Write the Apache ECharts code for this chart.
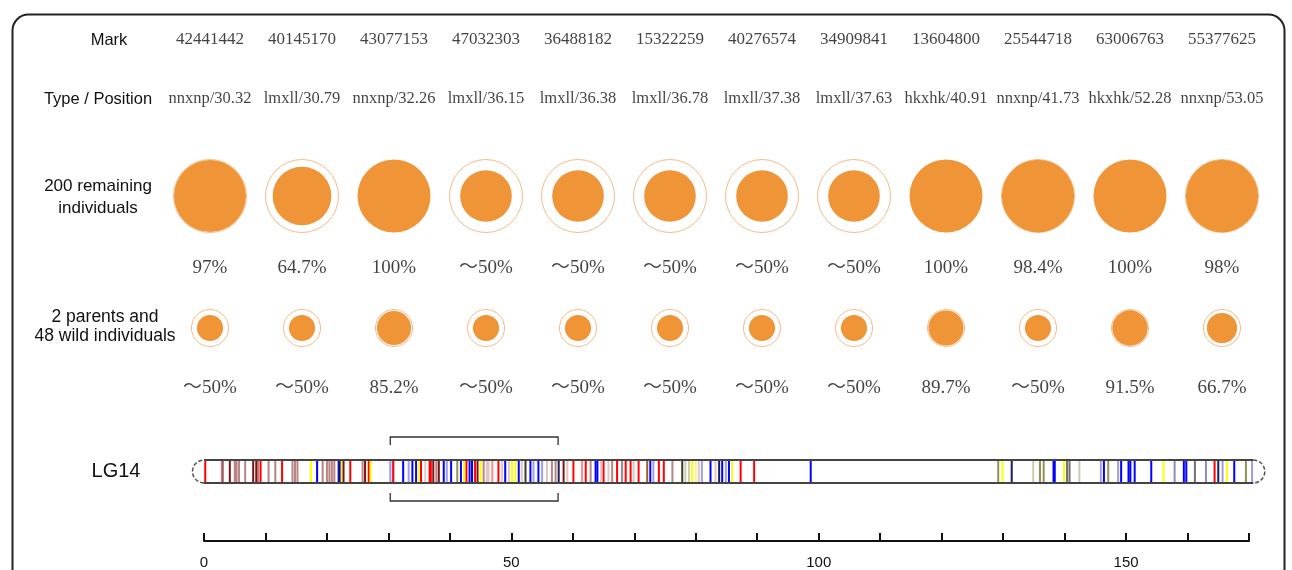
<!DOCTYPE html>
<html>
<head>
<meta charset="utf-8">
<script src="https://cdn.jsdelivr.net/npm/echarts@6/dist/echarts.min.js"></script>
<style>
  html, body { margin: 0; padding: 0; background: #fff; }
  #main { width: 1292px; height: 570px; }
</style>
</head>
<body>
<div id="main"></div>
<script>
// marker table
var marks = ['42441442', '40145170', '43077153', '47032303', '36488182', '15322259',
  '40276574', '34909841', '13604800', '25544718', '63006763', '55377625'];
var typePos = ['nnxnp/30.32', 'lmxll/30.79', 'nnxnp/32.26', 'lmxll/36.15', 'lmxll/36.38', 'lmxll/36.78',
  'lmxll/37.38', 'lmxll/37.63', 'hkxhk/40.91', 'nnxnp/41.73', 'hkxhk/52.28', 'nnxnp/53.05'];

// 200 remaining individuals
var remainPct = [97, 64.7, 100, 50, 50, 50, 50, 50, 100, 98.4, 100, 98];
var remainLabel = ['97%', '64.7%', '100%', '～50%', '～50%', '～50%', '～50%', '～50%', '100%', '98.4%', '100%', '98%'];

// 2 parents and 48 wild individuals
var wildPct = [50, 50, 85.2, 50, 50, 50, 50, 50, 89.7, 50, 91.5, 66.7];
var wildLabel = ['～50%', '～50%', '85.2%', '～50%', '～50%', '～50%', '～50%', '～50%', '89.7%', '～50%', '91.5%', '66.7%'];

// LG14 linkage group (cM)
var chrLength = 170.7;
var axisTicks = [0, 50, 100, 150];
var bracketRange = [30.3, 57.6];
var markerPos = [0.2, 2.9, 3.1, 4.2, 5.0, 5.3, 5.7, 6.7, 8.0, 8.5, 8.8, 9.2, 10.5, 11.6, 12.7, 14.4, 14.8, 15.2,
  17.4, 18.4, 19.3, 20.0, 20.4, 20.8, 21.2, 21.9, 22.1, 22.4, 22.7, 23.8, 25.8, 26.2, 26.8, 27.1,
  30.3, 30.7, 30.8, 32.4, 33.3, 33.9, 34.5, 34.9, 35.3, 36.0, 36.7, 36.9, 37.3, 37.8, 38.2, 39.0, 39.5,
  40.2, 41.2, 41.8, 42.3, 42.7, 43.2, 43.6, 44.1, 44.5, 45.0, 45.5, 46.0, 46.3, 46.9, 47.9, 48.5, 49.0,
  49.6, 50.1, 50.7, 51.2, 51.7, 52.3, 53.1, 53.6, 54.4, 55.0, 55.8, 56.6, 57.2, 57.7, 58.5, 59.1,
  60.1, 61.5, 62.1, 62.9, 63.7, 64.0, 64.6, 65.0, 65.8, 66.4, 67.2, 68.0, 68.6, 69.4, 69.9, 70.7,
  72.1, 72.6, 73.1, 74.0, 74.8, 76.2, 77.8, 78.3, 78.9, 79.4, 80.0, 80.5, 81.0, 82.4, 83.2, 83.8,
  84.3, 84.9, 85.4, 85.9, 87.3, 89.5, 98.7,
  129.2, 129.9, 131.4, 134.9, 136.0, 136.6, 138.2, 138.4, 139.9, 140.4, 140.8, 142.4, 145.9, 146.4,
  147.1, 148.7, 149.2, 150.4, 150.7, 151.4, 154.1, 156.1, 157.9, 159.4, 159.8, 161.2, 163.0, 164.4,
  165.0, 165.7, 166.4, 167.6, 169.5, 170.5];
var markerKind = ['r', 'br', 'br', 'dr', 'br', 'br', 'br', 'br', 'dr', 'dr', 'br', 'r', 'br', 'br', 'r', 'br', 'br', 'br',
  'y', 'b', 'br', 'br', 'br', 'br', 'br', 'n', 'b', 'y', 'dr', 'r', 'br', 'dr', 'r', 'y',
  'lb', 'lb', 'r', 'b', 'lb', 'b', 'b', 'y', 'r', 'lbr', 'r', 'r', 'dr', 'br', 'dr', 'b', 'lb',
  'b', 'o', 'b', 'y', 'r', 'b', 'b', 'r', 'dr', 'y', 'br', 'lbr', 'lbr', 'lr', 'r', 'lbr', 'b',
  'lbr', 'y', 'y', 'b', 'lbr', 'do', 'b', 'lb', 'b', 'lb', 'lbr', 'br', 'br', 'n', 'dr', 'lbr',
  'r', 'lr', 'r', 'br', 'b', 'b', 'lbr', 'r', 'lbr', 'br', 'r', 'br', 'r', 'r', 'lbr', 'r',
  'ob', 'b', 'lb', 'r', 'r', 'br', 'do', 'lo', 'lo', 'y', 'ly', 'lbr', 'lb', 'b', 'lbr', 'n',
  'b', 'lb', 'b', 'y', 'r', 'r', 'b',
  'o', 'y', 'n', 'lo', 'o', 'o', 'b', 'b', 'y', 'g', 'g', 'lo', 'lb', 'b',
  'o', 'lb', 'b', 'b', 'b', 'b', 'b', 'y', 'ln', 'b', 'b', 'g', 'ln', 'r',
  'n', 'lb', 'y', 'b', 'o', 'lb'];

// styles
var kindColor = {
  r: '#ff0000', lr: 'rgba(255,0,0,0.45)', dr: '#7a1414', br: 'rgba(130,30,30,0.55)', lbr: 'rgba(150,70,70,0.3)',
  b: '#0000ff', lb: 'rgba(40,40,210,0.45)', n: '#1c1c5c', ln: 'rgba(30,30,120,0.5)',
  y: '#ffff00', ly: 'rgba(230,230,0,0.45)', o: 'rgba(110,110,30,0.75)', lo: 'rgba(130,130,60,0.4)',
  g: '#707070', ob: '#a06010', do: '#3a3a22'
};
var ORANGE = '#ef9538';
var RING = '#f3aa68';
var SERIF = '"Liberation Serif", "Noto Sans CJK SC", serif';
var SANS = '"Liberation Sans", Arial, sans-serif';
var rowY = { mark: 40, type: 99, remain: 196, remainPct: 268, wild: 328, wildPct: 388 };
var bigD = 73, smallD = 37;
var barTop = 30, barBot = 53;

function textSeries(labels, y, size) {
  return {
    type: 'scatter', xAxisIndex: 0, yAxisIndex: 0, silent: true,
    symbolSize: 1, itemStyle: { color: 'rgba(0,0,0,0)' },
    data: labels.map(function (t, i) { return [i, y]; }),
    label: {
      show: true, position: 'inside', color: '#111', fontFamily: SERIF, fontSize: size,
      formatter: function (p) { return labels[p.dataIndex]; }
    }
  };
}
function ringSeries(pct, y, d) {
  return {
    type: 'scatter', xAxisIndex: 0, yAxisIndex: 0, silent: true, symbolSize: d,
    itemStyle: { color: 'rgba(0,0,0,0)', borderColor: RING, borderWidth: 1 },
    data: pct.map(function (v, i) { return v < 100 ? [i, y] : null; }).filter(function (v) { return v; })
  };
}
function fillSeries(pct, y, d) {
  return {
    type: 'scatter', xAxisIndex: 0, yAxisIndex: 0, silent: true,
    itemStyle: { color: ORANGE, opacity: 1 },
    data: pct.map(function (v, i) { return { value: [i, y], symbolSize: d * Math.sqrt(v / 100) }; })
  };
}

var chart = echarts.init(document.getElementById('main'), null, { renderer: 'canvas' });

var option = {
  animation: false,
  backgroundColor: '#fff',
  grid: [
    { left: 164, width: 1104, top: 0, height: 430 },
    { left: 204, width: 1045, top: 430, height: 111 }
  ],
  xAxis: [
    { type: 'category', gridIndex: 0, data: marks, show: false },
    {
      type: 'value', gridIndex: 1, min: 0, max: 170, interval: 10, position: 'bottom',
      axisLine: { show: true, onZero: false, lineStyle: { color: '#111', width: 2 } },
      axisTick: { show: true, inside: true, length: 8, lineStyle: { color: '#111', width: 2 } },
      splitLine: { show: false },
      axisLabel: {
        margin: 14, color: '#111', fontSize: 15, fontFamily: SANS,
        formatter: function (v) { return axisTicks.indexOf(v) >= 0 ? String(v) : ''; }
      }
    }
  ],
  yAxis: [
    { type: 'value', gridIndex: 0, min: 0, max: 430, inverse: true, show: false },
    { type: 'value', gridIndex: 1, min: 0, max: 111, inverse: true, show: false }
  ],
  graphic: [
    { type: 'rect', left: 10, top: 12, z: -10, shape: { width: 1272, height: 620, r: 16 },
      style: { fill: 'none', stroke: '#222', lineWidth: 2 } },
    { type: 'text', x: 109, y: 40, style: { text: 'Mark', font: '16.5px ' + SANS, fill: '#111', align: 'center', verticalAlign: 'middle' } },
    { type: 'text', x: 98, y: 99, style: { text: 'Type / Position', font: '16.5px ' + SANS, fill: '#111', align: 'center', verticalAlign: 'middle' } },
    { type: 'text', x: 98, y: 197, style: { text: '200 remaining\nindividuals', font: '17px ' + SANS, lineHeight: 22, fill: '#111', align: 'center', verticalAlign: 'middle' } },
    { type: 'text', x: 105, y: 327, style: { text: '2 parents and\n48 wild individuals', font: '17.5px ' + SANS, lineHeight: 19, fill: '#111', align: 'center', verticalAlign: 'middle' } },
    { type: 'text', x: 116, y: 471, style: { text: 'LG14', font: '20px ' + SANS, fill: '#111', align: 'center', verticalAlign: 'middle' } }
  ],
  series: [
    textSeries(marks, rowY.mark, 17),
    textSeries(typePos, rowY.type, 16.5),
    ringSeries(remainPct, rowY.remain, bigD),
    fillSeries(remainPct, rowY.remain, bigD),
    textSeries(remainLabel, rowY.remainPct, 19),
    ringSeries(wildPct, rowY.wild, smallD),
    fillSeries(wildPct, rowY.wild, smallD),
    textSeries(wildLabel, rowY.wildPct, 19),
    // chromosome body
    {
      type: 'custom', xAxisIndex: 1, yAxisIndex: 1, silent: true, z: 1,
      data: [[0, 0]],
      renderItem: function (params, api) {
        var a = api.coord([0, barTop]), b = api.coord([chrLength, barBot]);
        return { type: 'rect', shape: { x: a[0], y: a[1], width: b[0] - a[0], height: b[1] - a[1] }, style: { fill: '#fff' } };
      }
    },
    // markers
    {
      type: 'custom', xAxisIndex: 1, yAxisIndex: 1, silent: true, z: 2,
      data: markerPos.map(function (p) { return [p, 0]; }),
      renderItem: function (params, api) {
        var t = api.coord([api.value(0), barTop]), b = api.coord([api.value(0), barBot]);
        return { type: 'line', shape: { x1: t[0], y1: t[1], x2: b[0], y2: b[1] },
          style: { stroke: kindColor[markerKind[params.dataIndex]], lineWidth: 2 } };
      }
    },
    // outline and caps
    {
      type: 'custom', xAxisIndex: 1, yAxisIndex: 1, silent: true, z: 3,
      data: [[0, 0]],
      renderItem: function (params, api) {
        var a = api.coord([0, barTop]), b = api.coord([chrLength, barBot]);
        var r = (b[1] - a[1]) / 2, cy = (a[1] + b[1]) / 2;
        return {
          type: 'group', children: [
            { type: 'line', shape: { x1: a[0], y1: a[1], x2: b[0], y2: a[1] }, style: { stroke: '#444', lineWidth: 2 } },
            { type: 'line', shape: { x1: a[0], y1: b[1], x2: b[0], y2: b[1] }, style: { stroke: '#444', lineWidth: 2 } },
            { type: 'arc', shape: { cx: a[0], cy: cy, r: r, startAngle: Math.PI / 2, endAngle: Math.PI * 1.5, clockwise: true },
              style: { stroke: '#555', lineWidth: 1.5, lineDash: [4, 2], fill: null } },
            { type: 'arc', shape: { cx: b[0], cy: cy, r: r, startAngle: -Math.PI / 2, endAngle: Math.PI / 2, clockwise: true },
              style: { stroke: '#555', lineWidth: 1.5, lineDash: [4, 2], fill: null } }
          ]
        };
      }
    },
    // bracket around the region
    {
      type: 'custom', xAxisIndex: 1, yAxisIndex: 1, silent: true, z: 3,
      data: [bracketRange],
      renderItem: function (params, api) {
        var x1 = api.coord([api.value(0), 0])[0], x2 = api.coord([api.value(1), 0])[0];
        var t0 = api.coord([0, 7])[1], t1 = api.coord([0, 15])[1];
        var b0 = api.coord([0, 71])[1], b1 = api.coord([0, 63])[1];
        var st = { stroke: '#333', lineWidth: 1.3, fill: null };
        return {
          type: 'group', children: [
            { type: 'polyline', shape: { points: [[x1, t1], [x1, t0], [x2, t0], [x2, t1]] }, style: st },
            { type: 'polyline', shape: { points: [[x1, b1], [x1, b0], [x2, b0], [x2, b1]] }, style: st }
          ]
        };
      }
    }
  ]
};

chart.setOption(option);
</script>
</body>
</html>
